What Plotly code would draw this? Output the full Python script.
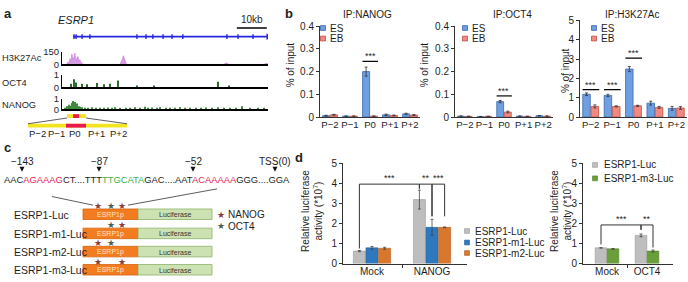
import plotly.graph_objects as go

W, H = 688, 282
FONT = "Liberation Sans, Arial, Helvetica, sans-serif"
INK = "#1e1e1e"

# ---------------- panel a : genome browser tracks (positions in kb) ----------------
genome_kb = [0.0, 68.7]
gene_kb = [3.7, 68.7]
exon_kb = [4.0, 4.7, 6.7, 9.3, 25.0, 28.0, 30.3, 33.7, 36.7, 40.3, 55.0, 58.7, 63.7]
scalebar_kb = [58.3, 68.3]
h3k27ac_kb = [0.0, 1.5, 2.0, 2.3, 2.7, 3.0, 3.3, 3.6, 4.0, 4.3, 4.6, 5.0, 5.3, 5.7, 6.0, 6.4, 6.8, 7.2,
              19.3, 19.8, 20.2, 20.5, 20.8, 21.1, 21.5,
              53.8, 54.3, 54.8, 55.3, 55.8,
              67.3, 68.0, 68.7]
h3k27ac_signal = [0, 0, 30, 15, 70, 40, 125, 60, 90, 135, 50, 80, 95, 40, 55, 20, 10, 0,
                  0, 30, 70, 105, 70, 30, 0,
                  0, 10, 18, 8, 0,
                  0, 12, 8]
oct4_kb = [3.0, 4.0, 4.7, 6.7, 8.3, 11.7, 14.0, 16.0, 18.7, 25.0, 30.7, 52.0, 55.7]
oct4_signal = [0.3, 0.65, 0.4, 0.3, 0.25, 0.35, 0.25, 0.3, 0.55, 0.15, 0.15, 0.45, 0.15]
nanog_kb = [1.0, 1.7, 2.3, 2.7, 3.3, 3.7, 4.0, 4.3, 4.7, 5.0, 5.7, 6.0, 6.7, 7.7, 8.7, 10.0, 11.3, 12.7,
            14.0, 15.3, 16.7, 17.7, 19.3, 21.3, 22.7, 24.3, 26.0, 27.7, 28.7, 30.0, 31.7, 32.7, 34.7,
            36.0, 37.7, 39.3, 41.0, 42.7, 44.7, 46.3, 48.0, 50.0, 52.0, 54.0, 56.0, 58.0, 60.0, 62.7,
            65.3, 67.3]
nanog_signal = [0.15, 0.3, 0.45, 0.35, 0.6, 0.8, 0.5, 0.7, 0.4, 0.55, 0.3, 0.25, 0.2, 0.15, 0.1, 0.2, 0.12, 0.15,
                0.1, 0.18, 0.12, 0.2, 0.1, 0.15, 0.12, 0.2, 0.12, 0.25, 0.15, 0.18, 0.1, 0.2, 0.12,
                0.15, 0.1, 0.2, 0.12, 0.1, 0.15, 0.12, 0.18, 0.1, 0.2, 0.12, 0.15, 0.1, 0.3, 0.12,
                0.15, 0.1]

# ---------------- panel b : ChIP-qPCR ----------------
chip_regions = ["P\u22122", "P\u22121", "P0", "P+1", "P+2"]
nanog_es = [0.006, 0.004, 0.200, 0.010, 0.014]
nanog_es_err = [0.002, 0.001, 0.020, 0.003, 0.003]
nanog_eb = [0.010, 0.004, 0.004, 0.007, 0.009]
nanog_eb_err = [0.002, 0.001, 0.001, 0.002, 0.002]
oct4_es = [0.004, 0.002, 0.068, 0.004, 0.006]
oct4_es_err = [0.001, 0.001, 0.005, 0.001, 0.001]
oct4_eb = [0.003, 0.003, 0.022, 0.003, 0.004]
oct4_eb_err = [0.001, 0.001, 0.004, 0.001, 0.001]
h3_es = [1.18, 1.12, 2.48, 0.72, 0.45]
h3_es_err = [0.07, 0.06, 0.13, 0.10, 0.10]
h3_eb = [0.55, 0.55, 0.58, 0.50, 0.47]
h3_eb_err = [0.08, 0.03, 0.03, 0.05, 0.07]
nanog_sig = {"P0": 0.245}
oct4_sig = {"P0": 0.093}
h3_sig = {"P\u22122": 1.42, "P\u22121": 1.42, "P0": 3.05}

# ---------------- panel c : constructs ----------------
motif_labels = ["\u2212143", "\u221287", "\u221252", "TSS(0)"]
constructs = ["ESRP1-Luc", "ESRP1-m1-Luc", "ESRP1-m2-Luc", "ESRP1-m3-Luc"]
construct_sites = [["NANOG", "OCT4", "NANOG"],
                   [None, "OCT4", "NANOG"],
                   ["NANOG", "OCT4", None],
                   ["NANOG", None, "NANOG"]]

# ---------------- panel d : luciferase ----------------
d1_groups = ["Mock", "NANOG"]
d1_series = ["ESRP1-Luc", "ESRP1-m1-Luc", "ESRP1-m2-Luc"]
d1_values = [[0.62, 3.18], [0.78, 1.80], [0.76, 1.80]]
d1_errors = [[0.03, 0.47], [0.07, 0.40], [0.05, 0.02]]
d2_groups = ["Mock", "OCT4"]
d2_series = ["ESRP1-Luc", "ESRP1-m3-Luc"]
d2_values = [[0.78, 1.40], [0.73, 0.62]]
d2_errors = [[0.01, 0.07], [0.02, 0.05]]

# ---------------- styling ----------------
BLUE_GENE = "#2626E0"
ES_FILL, ES_LINE = "#6E9FE0", "#3A68AE"
EB_FILL, EB_LINE = "#F08A7E", "#BF4E48"
D_COLORS = {"ESRP1-Luc": ("#BEBEBE", "#9A9A9A"),
            "ESRP1-m1-Luc": ("#2E78C0", "#245F9A"),
            "ESRP1-m2-Luc": ("#D9782D", "#B15E1E"),
            "ESRP1-m3-Luc": ("#6A9E3A", "#52802A")}
STAR = {"NANOG": "#8E3B3B", "OCT4": "#4E5E4E"}
YELLOW, RED = "#F2E422", "#E8194F"

fig = go.Figure()
ann, shp, axes = [], [], {}


def P(px, py):
    return px / W, 1 - py / H


def label(t, px, py, size=10, color=INK, xa="center", ya="middle", angle=0):
    x, y = P(px, py)
    ann.append(dict(text=t, x=x, y=y, xref="paper", yref="paper", showarrow=False,
                    xanchor=xa, yanchor=ya, textangle=angle,
                    font=dict(family=FONT, size=size, color=color)))


def rect(x0, y0, x1, y1, fill, line=None, lw=0.8):
    shp.append(dict(type="rect", xref="paper", yref="paper", x0=x0 / W, x1=x1 / W,
                    y0=1 - y1 / H, y1=1 - y0 / H, fillcolor=fill,
                    line=dict(color=line if line else fill, width=lw if line else 0)))


def seg(x0, y0, x1, y1, color="#333", lw=0.8):
    shp.append(dict(type="line", xref="paper", yref="paper", x0=x0 / W, y0=1 - y0 / H,
                    x1=x1 / W, y1=1 - y1 / H, line=dict(color=color, width=lw)))


def tri_down(cx, top, size=5, color="#111"):
    pts = [P(cx - size / 2, top), P(cx + size / 2, top), P(cx, top + size)]
    path = "M {:.5f},{:.5f} L {:.5f},{:.5f} L {:.5f},{:.5f} Z".format(*pts[0], *pts[1], *pts[2])
    shp.append(dict(type="path", xref="paper", yref="paper", path=path, fillcolor=color,
                    line=dict(width=0)))


def add_axes(n, xdom, ydom, xrange, yrange, xkw=None, ykw=None):
    sx = "" if n == 1 else str(n)
    base = dict(showgrid=False, zeroline=False, fixedrange=True,
                tickfont=dict(family=FONT, size=10, color=INK))
    xa = dict(base, domain=[xdom[0] / W, xdom[1] / W], range=xrange, anchor="y" + sx)
    xa.update(xkw or {})
    ya = dict(base, domain=[1 - ydom[1] / H, 1 - ydom[0] / H], range=yrange, anchor="x" + sx)
    ya.update(ykw or {})
    axes["xaxis" + sx] = xa
    axes["yaxis" + sx] = ya
    return "x" + sx, "y" + sx


# ======================= panel a =======================
label("<b>a</b>", 2, 8, size=13, xa="left")
label("<i>ESRP1</i>", 76, 15, size=11)

gx, gy = add_axes(1, (62, 268), (14, 36), genome_kb, [0, 22],
                  dict(visible=False), dict(visible=False))
fig.add_trace(go.Scatter(x=gene_kb, y=[4, 4], mode="lines", line=dict(color=BLUE_GENE, width=1.6),
                         xaxis=gx, yaxis=gy, hoverinfo="skip"))
ex_x, ex_y = [], []
for e in exon_kb:
    ex_x += [e, e, None]
    ex_y += [1.5, 6.5, None]
fig.add_trace(go.Scatter(x=ex_x, y=ex_y, mode="lines", line=dict(color=BLUE_GENE, width=1.4),
                         xaxis=gx, yaxis=gy, hoverinfo="skip"))
fig.add_trace(go.Scatter(x=[gene_kb[1]], y=[4], mode="markers",
                         marker=dict(symbol="triangle-right", size=6, color=BLUE_GENE),
                         xaxis=gx, yaxis=gy, hoverinfo="skip"))
fig.add_trace(go.Scatter(x=scalebar_kb, y=[13, 13], mode="lines", line=dict(color="black", width=1.5),
                         xaxis=gx, yaxis=gy, hoverinfo="skip"))
ann.append(dict(text="10kb", x=sum(scalebar_kb) / 2, y=13, xref=gx, yref=gy, yshift=9,
                showarrow=False, font=dict(family=FONT, size=10, color=INK)))

track_x = dict(showline=True, linecolor="black", linewidth=1.5, showticklabels=False, ticks="")
tracks = [("H3K27Ac", (48, 61), [0, 150], 54),
          ("OCT4", (72, 85), [0, 1], 80),
          ("NANOG", (97, 108), [0, 1], 103)]
track_axes = []
for i, (name, yd, rng, ly) in enumerate(tracks):
    xa, ya = add_axes(2 + i, (62, 268), yd, genome_kb, rng, dict(track_x),
                      dict(showline=True, linecolor="black", linewidth=1, ticks="", tickvals=rng,
                           tickfont=dict(family=FONT, size=9.5, color=INK)))
    track_axes.append((xa, ya))
    label(name, 0, ly, size=9.3, xa="left")

xa, ya = track_axes[0]
fig.add_trace(go.Scatter(x=h3k27ac_kb, y=h3k27ac_signal, mode="lines", fill="tozeroy",
                         line=dict(color="#C777D8", width=0.6), fillcolor="#D99BE6",
                         xaxis=xa, yaxis=ya, hoverinfo="skip"))
xa, ya = track_axes[1]
fig.add_trace(go.Bar(x=oct4_kb, y=oct4_signal, width=0.4, marker=dict(color="#2F6B2F", line_width=0),
                     xaxis=xa, yaxis=ya, hoverinfo="skip"))
xa, ya = track_axes[2]
fig.add_trace(go.Bar(x=nanog_kb, y=nanog_signal, width=0.4, marker=dict(color="#3C8A3C", line_width=0),
                     xaxis=xa, yaxis=ya, hoverinfo="skip"))

# zoom-in schematic of promoter amplicons
rect(67, 113, 86, 117, YELLOW)
rect(73, 113, 79, 117, RED)
rect(28, 123, 127, 127, YELLOW)
rect(66, 123, 86, 127, RED)
seg(28, 123, 67, 117)
seg(86, 117, 127, 123)
for name, cx in zip(chip_regions, [37, 57, 75, 96, 118]):
    label(name, cx, 133, size=9.5)

# ======================= panel b =======================
label("<b>b</b>", 283, 8, size=13, xa="left")
chip_panels = [
    ("IP:NANOG", (320, 420), (21, 116), [0, 0.4], [0, 0.1, 0.2, 0.3, 0.4],
     nanog_es, nanog_es_err, nanog_eb, nanog_eb_err, nanog_sig, 368, 290, 62, 323),
    ("IP:OCT4", (455, 553), (21, 116), [0, 0.4], [0, 0.1, 0.2, 0.3, 0.4],
     oct4_es, oct4_es_err, oct4_eb, oct4_eb_err, oct4_sig, 512, 424, 62, 465),
    ("IP:H3K27Ac", (580, 687), (15, 116), [0, 5], [0, 1, 2, 3, 4, 5],
     h3_es, h3_es_err, h3_eb, h3_eb_err, h3_sig, 632, 565, 68, 594),
]
pos = list(range(len(chip_regions)))
for i, (title, xd, yd, yr, yt, es, ese, eb, ebe, sig, tx, ylx, yly, lgx) in enumerate(chip_panels):
    xa, ya = add_axes(5 + i, xd, yd, [-0.5, len(chip_regions) - 0.5], yr,
                      dict(showline=True, linecolor="#333", linewidth=1, ticks="", tickangle=0,
                           tickvals=pos, ticktext=chip_regions, ticklabelstandoff=-2,
                           tickfont=dict(family=FONT, size=9.6, color=INK)),
                      dict(showline=True, linecolor="#333", linewidth=1, ticks="outside", ticklen=3,
                           tickwidth=1, tickcolor="#333", tickvals=yt))
    for vals, errs, fill, line, off in [(es, ese, ES_FILL, ES_LINE, -0.37), (eb, ebe, EB_FILL, EB_LINE, 0.02)]:
        fig.add_trace(go.Bar(x=pos, y=vals, width=0.35, offset=off,
                             marker=dict(color=fill, line=dict(color=line, width=0.8)),
                             error_y=dict(type="data", array=errs, visible=True, color="#333",
                                          thickness=0.8, width=1.5),
                             xaxis=xa, yaxis=ya, hoverinfo="skip"))
    for reg, yv in sig.items():
        c = chip_regions.index(reg)
        fig.add_trace(go.Scatter(x=[c - 0.38, c + 0.4], y=[yv, yv], mode="lines",
                                 line=dict(color="black", width=1.2), xaxis=xa, yaxis=ya, hoverinfo="skip"))
        ann.append(dict(text="***", x=c, y=yv, xref=xa, yref=ya, yshift=5, showarrow=False,
                        font=dict(family=FONT, size=9, color=INK)))
    label(title, tx, 9, size=10)
    label("% of input", ylx, yly, size=10, angle=-90)
    for name, fill, line, ly in [("ES", ES_FILL, ES_LINE, 23), ("EB", EB_FILL, EB_LINE, 34)]:
        rect(lgx - 2.5, ly - 2.5, lgx + 2.5, ly + 2.5, fill, line, 0.8)
        label(name, lgx + 5, ly, size=10, xa="left")

# ======================= panel c =======================
label("<b>c</b>", 2, 148, size=13, xa="left")
for t, cx in zip(motif_labels, [22, 99, 193, 275]):
    label(t, cx, 162, size=10)
    tri_down(cx, 168, 5)
seq_parts = [("AAC", INK), ("AGAAAG", "#E6245A"), ("CT....TTT", INK), ("TTGCATA", "#3DB14A"),
             ("GAC....AAT", INK), ("ACAAAAA", "#E6245A"), ("GGG....GGA", INK)]
seq_html = "".join(f'<span style="color:{c}">{s}</span>' for s, c in seq_parts)
label(seq_html, 2, 181, size=9.4, xa="left")
seg(52, 199, 93, 208)
seg(217, 191, 128, 208)

row_tops = [212, 232, 251, 270]
star_x = [98, 111, 122]
for name, sites, top in zip(constructs, construct_sites, row_tops):
    label(name, 12, top + 6, size=10.5, xa="left")
    rect(83, top, 138, top + 11, "#F47C20", "#D4650F", 0.8)
    rect(138, top, 212, top + 11, "#CDE2B2", "#8DB36A", 0.8)
    label("ESRP1p", 110, top + 6, size=7, color="#FCE4C8")
    label("Luciferase", 175, top + 6, size=7, color="#333")
    for s, sx in zip(sites, star_x):
        if s:
            label("\u2605", sx, top - 3, size=9, color=STAR[s])
for s, ly in [("NANOG", 218), ("OCT4", 230)]:
    label("\u2605", 221, ly, size=9, color=STAR[s])
    label(s, 226, ly, size=10, xa="left")

# ======================= panel d =======================
label("<b>d</b>", 293, 158, size=13, xa="left")


def lucif_panel(n, xd, xr, groups, series, values, errors, width, offsets, ylab_x):
    xa, ya = add_axes(n, xd, (164, 269), xr, [0, 5],
                      dict(showline=True, linecolor="#333", linewidth=1, ticks="", tickangle=0,
                           tickvals=list(range(len(groups))), ticktext=groups, ticklabelstandoff=-2,
                           minor=dict(tickvals=[0.5], ticks="outside", ticklen=3, tickcolor="#333")),
                      dict(showline=True, linecolor="#333", linewidth=1, ticks="outside", ticklen=3,
                           tickwidth=1, tickcolor="#333", tickvals=[0, 1, 2, 3, 4, 5]))
    gpos = list(range(len(groups)))
    for s, vals, errs, off in zip(series, values, errors, offsets):
        fill, line = D_COLORS[s]
        fig.add_trace(go.Bar(x=gpos, y=vals, width=width, offset=off,
                             marker=dict(color=fill, line=dict(color=line, width=0.6)),
                             error_y=dict(type="data", array=errs, visible=True, color="#444",
                                          thickness=0.8, width=1.5),
                             xaxis=xa, yaxis=ya, hoverinfo="skip"))
    label("Relative luciferase<br>activity (*10<sup>7</sup>)", ylab_x, 214, size=10, angle=-90)
    return xa, ya


def bracket(xa, ya, xl, xr, ytop, yl, yr, txt):
    fig.add_trace(go.Scatter(x=[xl, xl, xr, xr], y=[yl, ytop, ytop, yr], mode="lines",
                             line=dict(color="#333", width=1), xaxis=xa, yaxis=ya, hoverinfo="skip"))
    ann.append(dict(text=txt, x=(xl + xr) / 2, y=ytop, xref=xa, yref=ya, yshift=6, showarrow=False,
                    font=dict(family=FONT, size=9, color=INK)))


w1, o1 = 0.2, [-0.31, -0.1, 0.11]
c1 = [o + w1 / 2 for o in o1]
xa, ya = lucif_panel(8, (343, 467), [-0.483, 1.583], d1_groups, d1_series, d1_values, d1_errors,
                     w1, o1, 312)
bracket(xa, ya, 0 + c1[0], 1 + c1[0], 3.95, 0.75, 3.72, "***")
bracket(xa, ya, 1 + c1[0], 1 + c1[1], 3.95, 3.72, 2.35, "**")
bracket(xa, ya, 1 + c1[1], 1 + c1[2], 3.95, 2.35, 2.35, "***")
for s, ly in zip(d1_series, [235, 247, 258]):
    fill, line = D_COLORS[s]
    rect(464.5, ly - 2.5, 469.5, ly + 2.5, fill, line, 0.6)
    label(s, 473, ly, size=10, xa="left")

w2, o2 = 0.29, [-0.295, 0.005]
c2 = [o + w2 / 2 for o in o2]
xa, ya = lucif_panel(9, (583, 673), [-0.6, 1.65], d2_groups, d2_series, d2_values, d2_errors,
                     w2, o2, 561)
bracket(xa, ya, 0 + c2[0], 1 + c2[0], 1.92, 0.95, 1.68, "***")
bracket(xa, ya, 1 + c2[0], 1 + c2[1], 1.92, 1.68, 0.8, "**")
for s, ly in zip(d2_series, [166, 180]):
    fill, line = D_COLORS[s]
    rect(592.5, ly - 2.5, 597.5, ly + 2.5, fill, line, 0.6)
    label(s, 602, ly, size=10, xa="left")

fig.update_layout(width=W, height=H, autosize=False, margin=dict(l=0, r=0, t=0, b=0),
                  paper_bgcolor="white", plot_bgcolor="rgba(0,0,0,0)", showlegend=False,
                  barmode="overlay", annotations=ann, shapes=shp,
                  font=dict(family=FONT, size=10, color=INK), **axes)
fig.write_html("out.html", config={"displayModeBar": False},
               post_script="document.body.style.margin='0';document.body.style.overflow='hidden';")
